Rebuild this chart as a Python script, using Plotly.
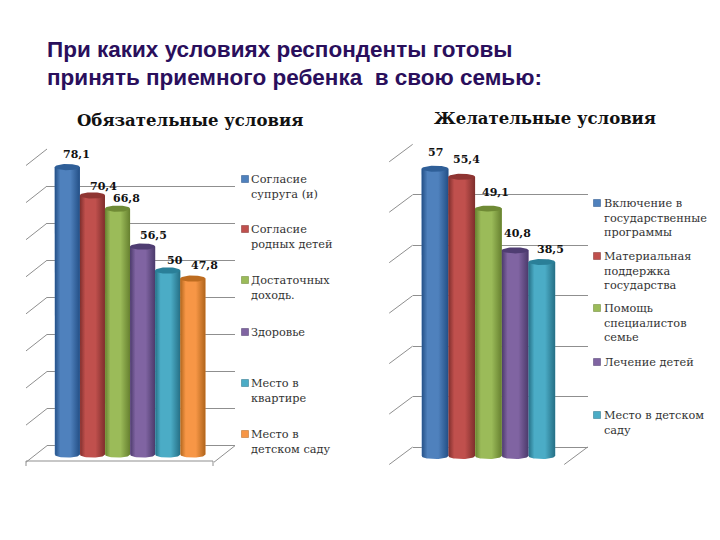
import math
import plotly.graph_objects as go

# ---- data ----
title_lines = ["При каких условиях респонденты готовы", "принять приемного ребенка  в свою семью:"]
left_title = "Обязательные условия"
left_categories = ["Согласие<br>супруга (и)", "Согласие<br>родных детей", "Достаточных<br>доходь.",
                   "Здоровье", "Место в<br>квартире", "Место в<br>детском саду"]
left_values = [78.1, 70.4, 66.8, 56.5, 50, 47.8]
left_labels = ["78,1", "70,4", "66,8", "56,5", "50", "47,8"]
right_title = "Желательные условия"
right_categories = ["Включение в<br>государственные<br>программы", "Материальная<br>поддержка<br>государства",
                    "Помощь<br>специалистов<br>семье", "Лечение детей", "Место в детском<br>саду"]
right_values = [57, 55.4, 49.1, 40.8, 38.5]
right_labels = ["57", "55,4", "49,1", "40,8", "38,5"]

# ---- style ----
W, H = 720, 540
SERIF = "DejaVu Serif"
GRID = "#8f8f8f"
# (edge, mid, cap)
PALETTE = [("#234f86", "#4f81bd", "#2f5f98"), ("#7e2e2c", "#c0504d", "#8f3532"),
           ("#66802f", "#9bbb59", "#6f8a35"), ("#4b3a6b", "#8064a2", "#4f3d72"),
           ("#256f85", "#4bacc6", "#2a7f98"), ("#b0651c", "#f79646", "#bd6c20")]

def px(x): return x / W
def py(y): return 1 - y / H

LEFT = dict(back_x=(47, 235), back_y=(149, 445.7), top=80, x0=67.3, dx=25.1, y0=454.5, sy=3.68,
            front_x=(26, 213), ry=0.85, hw=0.5,
            legend_sw=245, legend_tx=248.5, legend_y=[179, 229, 280, 332, 383, 434],
            title_x=190, title_y=120, diag=(21, 16.5),
            off=[(9, -13), (11, -9), (9, -10), (11, -11), (7, -10), (12, -13)])
RIGHT = dict(back_x=(412.7, 587.7), back_y=(144.3, 447), top=60, x0=435, dx=26.7, y0=456, sy=5.04,
             front_x=(389, 564), ry=0.6, hw=0.5,
             legend_sw=597, legend_tx=602, legend_y=[203, 256, 308, 362, 415],
             title_x=545, title_y=118, diag=(23.5, 17.5),
             off=[(0, -16), (5, -17), (7, -16), (2, -17), (9, -12)])

fig = go.Figure()
layout = {}
shapes, annots = [], []

def add_chart(cfg, idx, cats, vals, labels, title):
    bx, by, fx, fy = [f"{a}{idx + b}" for a, b in (("x", 1), ("y", 1), ("x", 2), ("y", 2))]
    def key(a): return a[0] + "axis" + a[1:]
    layout[key(bx)] = dict(domain=[px(cfg["back_x"][0]), px(cfg["back_x"][1])], range=[0, 1], visible=False,
                           anchor=by)
    layout[key(by)] = dict(domain=[py(cfg["back_y"][1]), py(cfg["back_y"][0])], range=[0, cfg["top"]],
                           dtick=10, showgrid=True, gridcolor=GRID, gridwidth=1, zeroline=True,
                           zerolinecolor=GRID, zerolinewidth=1, showticklabels=False, ticks="",
                           showline=False, anchor=bx)
    fig.add_trace(go.Scatter(x=[0], y=[0], mode="lines", xaxis=bx, yaxis=by, showlegend=False, hoverinfo="skip"))
    xr = [(fx_ - cfg["x0"]) / cfg["dx"] for fx_ in cfg["front_x"]]
    ylo, yhi = -3, cfg["top"] + 10
    layout[key(fx)] = dict(domain=[px(cfg["front_x"][0]), px(cfg["front_x"][1])], range=xr, visible=False, anchor=fy)
    layout[key(fy)] = dict(domain=[py(cfg["y0"] - ylo * cfg["sy"]), py(cfg["y0"] - yhi * cfg["sy"])],
                           range=[ylo, yhi], visible=False, anchor=fx)
    hw, ry = cfg["hw"], cfg["ry"]
    for i, (c, v, lab) in enumerate(zip(cats, vals, labels)):
        edge, mid, cap = PALETTE[i]
        fig.add_trace(go.Bar(x=[i], y=[v], width=[1], name=c.replace("<br>", " "), marker=dict(color=mid, line_width=0),
                             xaxis=fx, yaxis=fy, showlegend=False))
        angs = [math.pi * k / 24 for k in range(25)]
        xs = [i - hw] + [i - hw * math.cos(a) for a in angs] + [i + hw, i - hw]
        ys = [v] + [-ry * math.sin(a) for a in angs] + [v, v]
        fig.add_trace(go.Scatter(x=xs, y=ys, mode="lines", line=dict(width=0, color=mid), fill="toself",
                                 fillgradient=dict(type="horizontal", colorscale=[[0, edge], [0.22, mid], [0.62, mid], [1, edge]]),
                                 xaxis=fx, yaxis=fy, showlegend=False, hoverinfo="skip"))
        a2 = [2 * math.pi * k / 48 for k in range(49)]
        fig.add_trace(go.Scatter(x=[i + hw * math.cos(a) for a in a2], y=[v + ry * math.sin(a) for a in a2],
                                 mode="lines", line=dict(width=0, color=cap), fill="toself", fillcolor=cap,
                                 xaxis=fx, yaxis=fy, showlegend=False, hoverinfo="skip"))
        ox, oy = cfg["off"][i]
        annots.append(dict(x=i, y=v, xref=fx, yref=fy, text=f"<b>{lab}</b>", showarrow=False, xshift=ox, yshift=-oy,
                           font=dict(family=SERIF, size=11, color="#111111"), xanchor="center", yanchor="middle"))
        # legend
        ly = cfg["legend_y"][i]
        shapes.append(dict(type="rect", xref="paper", yref="paper", x0=px(cfg["legend_sw"] - 3.5), x1=px(cfg["legend_sw"] + 3.5),
                           y0=py(ly + 3.5), y1=py(ly - 3.5), fillcolor=mid, line=dict(width=0.5, color=edge)))
        annots.append(dict(x=px(cfg["legend_tx"]), y=py(ly - 8), xref="paper", yref="paper", text=c, showarrow=False,
                           align="left", xanchor="left", yanchor="top", font=dict(family=SERIF, size=11.3, color="#333333")))
    # side-wall diagonals
    dxx, dyy = cfg["diag"]
    step = (cfg["back_y"][1] - cfg["back_y"][0]) * 10 / cfg["top"]
    for k in range(cfg["top"] // 10 + 1):
        yb = cfg["back_y"][1] - k * step
        shapes.append(dict(type="line", xref="paper", yref="paper", x0=px(cfg["back_x"][0] - dxx), y0=py(yb + dyy),
                           x1=px(cfg["back_x"][0]), y1=py(yb), line=dict(color=GRID, width=1), layer="below"))
    # right floor diagonal
    yb = cfg["back_y"][1]
    shapes.append(dict(type="line", xref="paper", yref="paper", x0=px(cfg["back_x"][1] - dxx), y0=py(yb + dyy),
                       x1=px(cfg["back_x"][1]), y1=py(yb), line=dict(color=GRID, width=1), layer="below"))
    annots.append(dict(x=px(cfg["title_x"]), y=py(cfg["title_y"]), xref="paper", yref="paper", text=f"<b>{title}</b>",
                       showarrow=False, xanchor="center", yanchor="middle", font=dict(family=SERIF, size=16.5, color="#111111")))

add_chart(LEFT, 0, left_categories, left_values, left_labels, left_title)
add_chart(RIGHT, 2, right_categories, right_values, right_labels, right_title)

# left chart front floor edge and its tick marks
for seg in [((26, 461), (213, 461)), ((26, 461), (26, 466)), ((213, 461), (213, 466))]:
    shapes.append(dict(type="line", xref="paper", yref="paper", x0=px(seg[0][0]), y0=py(seg[0][1]),
                       x1=px(seg[1][0]), y1=py(seg[1][1]), line=dict(color=GRID, width=1), layer="below"))

for line, y in zip(title_lines, (49, 77)):
    annots.append(dict(x=px(45), y=py(y), xref="paper", yref="paper", text=f"<b>{line}</b>", showarrow=False,
                       xanchor="left", yanchor="middle", font=dict(family="Liberation Sans", size=22.5, color="#2a0f5c")))

fig.update_layout(width=W, height=H, margin=dict(l=0, r=0, t=0, b=0), paper_bgcolor="white",
                  plot_bgcolor="rgba(0,0,0,0)",
                  showlegend=False, barmode="overlay", shapes=shapes, annotations=annots, **layout)
fig.write_html("out.html", config={"displayModeBar": False}, post_script="document.body.style.margin='0';")
